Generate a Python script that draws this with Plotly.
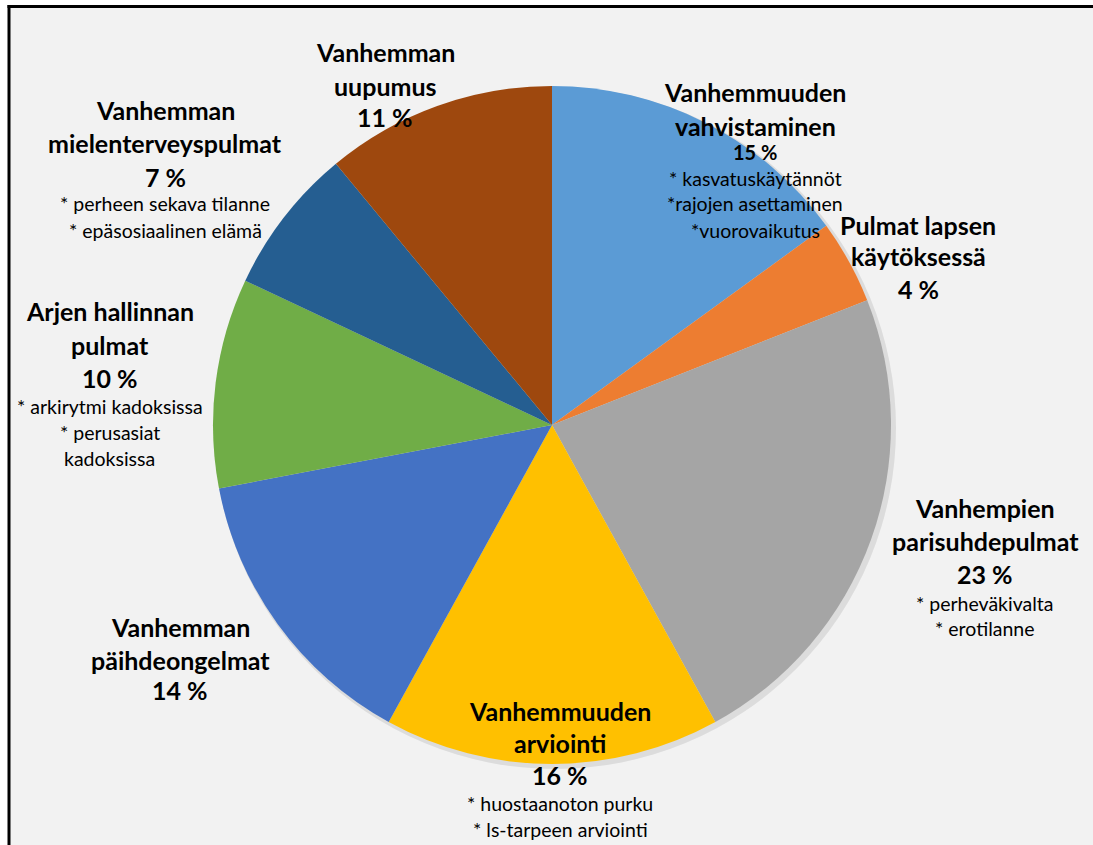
import plotly.graph_objects as go

# ---- data ----
categories = [
    "Vanhemmuuden vahvistaminen",
    "Pulmat lapsen käytöksessä",
    "Vanhempien parisuhdepulmat",
    "Vanhemmuuden arviointi",
    "Vanhemman päihdeongelmat",
    "Arjen hallinnan pulmat",
    "Vanhemman mielenterveyspulmat",
    "Vanhemman uupumus",
]
values = [15, 4, 23, 16, 14, 10, 7, 11]
title_lines = [
    ["Vanhemmuuden", "vahvistaminen"],
    ["Pulmat lapsen", "käytöksessä"],
    ["Vanhempien", "parisuhdepulmat"],
    ["Vanhemmuuden", "arviointi"],
    ["Vanhemman", "päihdeongelmat"],
    ["Arjen hallinnan", "pulmat"],
    ["Vanhemman", "mielenterveyspulmat"],
    ["Vanhemman", "uupumus"],
]
notes = [
    ["* kasvatuskäytännöt", "*rajojen asettaminen", "*vuorovaikutus"],
    [],
    ["* perheväkivalta", "* erotilanne"],
    ["* huostaanoton purku", "* ls-tarpeen arviointi"],
    [],
    ["* arkirytmi kadoksissa", "* perusasiat", "kadoksissa"],
    ["* perheen sekava tilanne", "* epäsosiaalinen elämä"],
    [],
]
colors = ["#5B9BD5", "#ED7D31", "#A5A5A5", "#FFC000",
          "#4472C4", "#70AD47", "#255E91", "#9E480E"]

# ---- layout (screen pixel positions of label blocks: x center, y of each line) ----
W, H = 1093, 845
label_pos = [
    (755, [92, 126, 152, 178, 204, 230]),
    (918, [225, 256, 289]),
    (985, [508, 541, 574, 603, 628]),
    (560, [711, 743, 775, 803, 829]),
    (180, [627, 660, 690]),
    (110, [311, 345, 378, 406, 432, 458]),
    (165, [110, 143, 177, 204, 230]),
    (385, [52, 86, 117]),
]
FONT = "Lato, 'Open Sans', sans-serif"


def px(x):
    return x / W


def py(y):
    return 1 - y / H


cx, cy, r = 552, 425, 339

fig = go.Figure()
# soft shadow
fig.add_trace(go.Pie(
    values=[1], marker=dict(colors=["rgba(0,0,0,0.09)"], line=dict(width=0)),
    textinfo="none", hoverinfo="skip", showlegend=False, sort=False,
    domain=dict(x=[px(cx - r + 1), px(cx + r + 5)],
                y=[py(cy + r + 5), py(cy - r + 1)]),
))
fig.add_trace(go.Pie(
    labels=categories, values=values, sort=False, direction="clockwise",
    rotation=0, marker=dict(colors=colors, line=dict(width=0)),
    textinfo="none", showlegend=False,
    domain=dict(x=[px(cx - r), px(cx + r)], y=[py(cy + r), py(cy - r)]),
))

annotations = []
for i, (x, ys) in enumerate(label_pos):
    lines = []
    for t in title_lines[i]:
        lines.append((t, 25, True))
    pct_size = 20 if i == 0 else 25
    lines.append((f"{values[i]} %", pct_size, True))
    for n in notes[i]:
        lines.append((n, 19.5, False))
    for (txt, size, bold), y in zip(lines, ys):
        annotations.append(dict(
            x=px(x), y=py(y), xref="paper", yref="paper",
            text=f"<b>{txt}</b>" if bold else txt, showarrow=False,
            xanchor="center", yanchor="middle",
            font=dict(family=FONT, size=size, color="#000000"),
        ))

fig.update_layout(
    width=W, height=H, margin=dict(l=0, r=0, t=0, b=0),
    paper_bgcolor="white", plot_bgcolor="white",
    annotations=annotations,
    shapes=[
        dict(type="rect", xref="paper", yref="paper",
             x0=px(9), x1=1, y0=0, y1=py(6.5),
             fillcolor="#F2F2F2", line=dict(width=0), layer="below"),
        dict(type="line", xref="paper", yref="paper",
             x0=px(9), x1=px(9), y0=0, y1=py(5),
             line=dict(color="black", width=3), layer="below"),
        dict(type="line", xref="paper", yref="paper",
             x0=px(7.5), x1=1, y0=py(6.5), y1=py(6.5),
             line=dict(color="black", width=3), layer="below"),
    ],
)
fig.write_html(
    "out.html",
    config={"displayModeBar": False},
    post_script="document.body.style.margin='0';document.body.style.overflow='hidden';",
)
